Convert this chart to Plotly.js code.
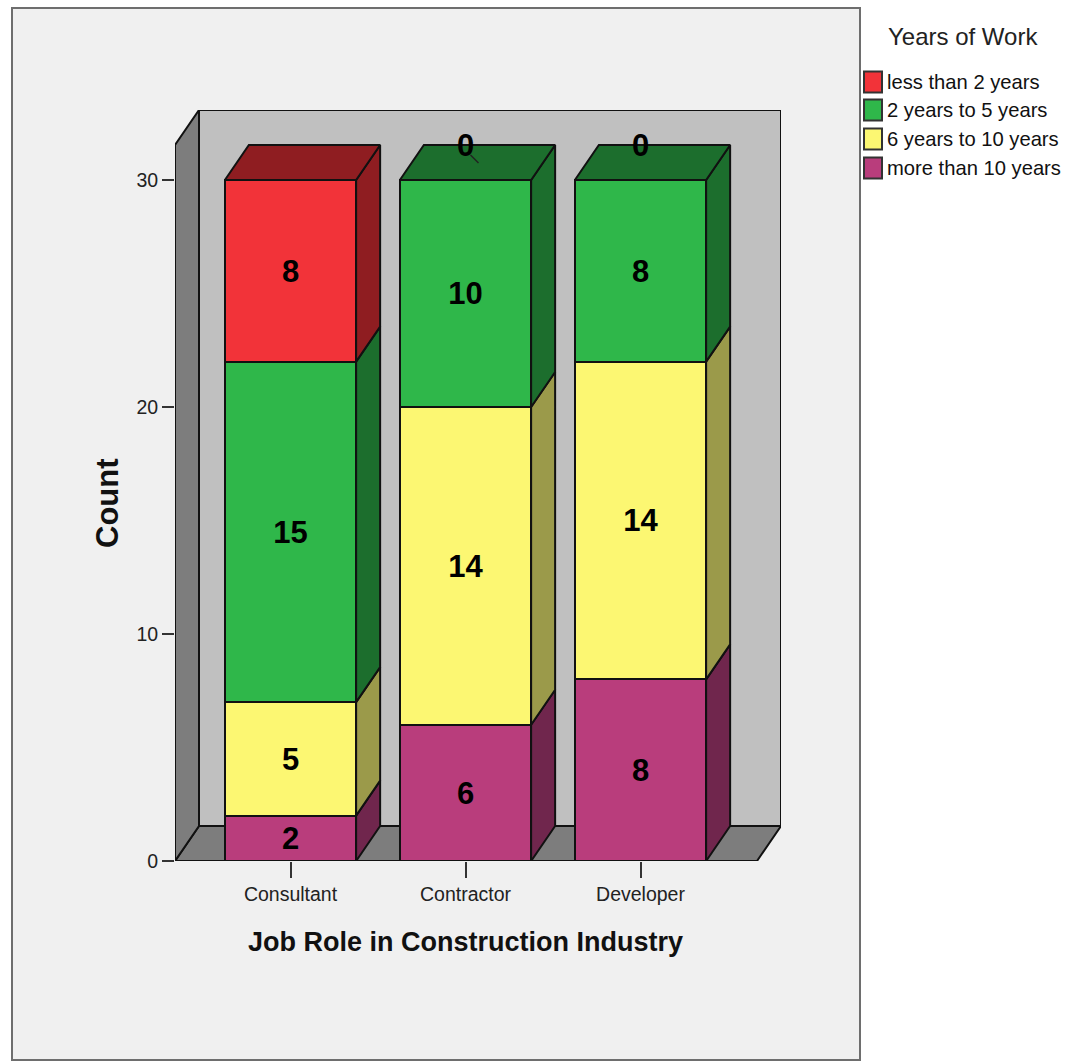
<!DOCTYPE html>
<html>
<head>
<meta charset="utf-8">
<script src="https://cdn.plot.ly/plotly-3.0.1.min.js"></script>
<style>html,body{margin:0;padding:0;background:#fff}</style>
</head>
<body>
<div id="chart" style="width:1077px;height:1061px"></div>
<script>
// Job roles and the head count of each work-experience band
const jobRoles = ["Consultant", "Contractor", "Developer"];
const moreThan10 = [2, 6, 8];
const from6To10 = [5, 14, 14];
const from2To5 = [15, 10, 8];
const lessThan2 = [8, 0, 0];

// Stack order, bottom to top
const seriesNames = ["more than 10 years", "6 years to 10 years", "2 years to 5 years", "less than 2 years"];
const seriesValues = [moreThan10, from6To10, from2To5, lessThan2];
const faceColors = ["#b93d7c", "#fcf772", "#2fb74a", "#f23339"];
const shadeColors = ["#70264d", "#9b9a4a", "#1c6e2d", "#8f1d21"];
const yTicks = [0, 10, 20, 30];

const FONT = '"Liberation Sans", Arial, sans-serif';
const W = 1077, H = 1061;
const plotL = 175, plotR = 781, plotT = 110, plotB = 861;
const catStep = 175, catFirst = 290.5, unitPx = 22.7;
const barWidth = 0.75;
const depthX = 24 / catStep, depthY = 35 / unitPx;
const labelDrop = 3 / unitPx;

const xRange = [(plotL - catFirst) / catStep, (plotR - catFirst) / catStep];
const yRange = [0, (plotB - plotT) / unitPx];
const yTop = yRange[1] - depthY;
const xRight = xRange[1] - depthX;

const px = v => (v - plotL) / (plotR - plotL);
const py = v => (plotB - v) / (plotB - plotT);
const poly = pts => "M" + pts.map(p => p[0] + "," + p[1]).join("L") + "Z";
const line = "#111";
const edge = 2;

// Room behind the bars: panel, back wall, floor and left wall
const shapes = [
  {type: "rect", xref: "paper", yref: "paper", layer: "below", x0: px(12), x1: px(860), y0: py(8), y1: py(1060),
   fillcolor: "#f0f0f0", line: {color: "#6e6e6e", width: 2}},
  {type: "path", layer: "below", fillcolor: "#c0c0c0", line: {color: line, width: edge},
   path: poly([[xRange[0] + depthX, depthY], [xRange[1], depthY], [xRange[1], yRange[1]], [xRange[0] + depthX, yRange[1]]])},
  {type: "path", layer: "below", fillcolor: "#7d7d7d", line: {color: line, width: edge},
   path: poly([[xRange[0], 0], [xRange[0] + depthX, depthY], [xRange[1], depthY], [xRight, 0]])},
  {type: "path", layer: "below", fillcolor: "#7d7d7d", line: {color: line, width: edge},
   path: poly([[xRange[0], 0], [xRange[0] + depthX, depthY], [xRange[0] + depthX, yRange[1]], [xRange[0], yTop]])}
];

const xIdx = jobRoles.map((_, i) => i);
const traces = [];

// Front faces
seriesNames.forEach((name, s) => {
  traces.push({type: "bar", name, x: xIdx, y: seriesValues[s], width: barWidth, showlegend: false, hoverinfo: "skip",
    marker: {color: faceColors[s], line: {color: line, width: edge}}});
});

// Side and top faces, plus the value labels
const labelX = [], labelY = [], labelText = [];
const closed = (xs, ys, color) => ({type: "scatter", mode: "lines", x: xs, y: ys, fill: "toself", fillcolor: color,
  line: {color: line, width: edge}, showlegend: false, hoverinfo: "skip"});

xIdx.forEach(i => {
  const right = i + barWidth / 2, left = i - barWidth / 2;
  let base = 0, topShade = 0;
  seriesValues.forEach((vals, s) => {
    const v = vals[i], top = base + v;
    if (v > 0) {
      traces.push(closed([right, right + depthX, right + depthX, right, right],
        [base, base + depthY, top + depthY, top, base], shadeColors[s]));
      topShade = s;
    }
    base = top;
  });
  traces.push(closed([left, left + depthX, right + depthX, right, left],
    [base, base + depthY, base + depthY, base, base], shadeColors[topShade]));

  let start = 0;
  seriesValues.forEach(vals => {
    const v = vals[i];
    labelX.push(i);
    labelY.push((v > 0 ? start + v / 2 : base + depthY) - labelDrop);
    labelText.push(String(v));
    start += v;
  });
});

traces.push({type: "scatter", mode: "text", x: labelX, y: labelY, text: labelText, cliponaxis: false,
  textposition: "middle center", textfont: {family: FONT, size: 31, color: "#000", weight: "bold"},
  showlegend: false, hoverinfo: "skip"});

// Short leader left by the zero label on the Contractor bar
shapes.push({type: "line", layer: "above", x0: 1 + 5 / catStep, x1: 1 + 13 / catStep,
  y0: 30 + depthY - 10 / unitPx, y1: 30 + depthY - 18 / unitPx, line: {color: "#222", width: 1.5}});

// Axis titles are centred on the front of the box, and the legend sits beside the panel
const annotations = [
  {xref: "paper", yref: "paper", x: px(465), y: py(942), text: "Job Role in Construction Industry", showarrow: false,
   xanchor: "center", yanchor: "middle", font: {family: FONT, size: 27, color: "#111", weight: "bold"}},
  {xref: "paper", yref: "paper", x: px(107), y: py(503), text: "Count", showarrow: false, textangle: -90,
   xanchor: "center", yanchor: "middle", font: {family: FONT, size: 31, color: "#111", weight: "bold"}},
  {xref: "paper", yref: "paper", x: px(963), y: py(37), text: "Years of Work", showarrow: false,
   xanchor: "center", yanchor: "middle", font: {family: FONT, size: 24, color: "#222"}}
];
const legendRows = [82, 110, 139, 168];
seriesNames.slice().reverse().forEach((name, k) => {
  const c = legendRows[k], color = faceColors[seriesNames.length - 1 - k];
  shapes.push({type: "rect", xref: "paper", yref: "paper", x0: px(864), x1: px(882), y0: py(c - 10.5), y1: py(c + 10.5),
    fillcolor: color, line: {color: "#333", width: 2}});
  annotations.push({xref: "paper", yref: "paper", x: px(885), y: py(c), text: name, showarrow: false,
    xanchor: "left", yanchor: "middle", font: {family: FONT, size: 20.2, color: "#111"}});
});

const layout = {
  width: W, height: H,
  margin: {l: plotL, r: W - plotR, t: plotT, b: H - plotB, pad: 0},
  paper_bgcolor: "#ffffff", plot_bgcolor: "rgba(0,0,0,0)",
  barmode: "stack", showlegend: false, hovermode: false,
  xaxis: {range: xRange, tickmode: "array", tickvals: xIdx, ticktext: jobRoles, ticks: "outside", ticklen: 16,
    tickwidth: 2, tickcolor: "#333", showgrid: false, zeroline: false, showline: false,
    tickfont: {family: FONT, size: 19.5, color: "#222"}},
  yaxis: {range: yRange, tickmode: "array", tickvals: yTicks, ticks: "outside", ticklen: 12,
    tickwidth: 2, tickcolor: "#333", showgrid: false, zeroline: false, showline: false,
    tickfont: {family: FONT, size: 19.5, color: "#222"}},
  shapes, annotations
};

Plotly.newPlot("chart", traces, layout, {displayModeBar: false, staticPlot: true});
</script>
</body>
</html>
